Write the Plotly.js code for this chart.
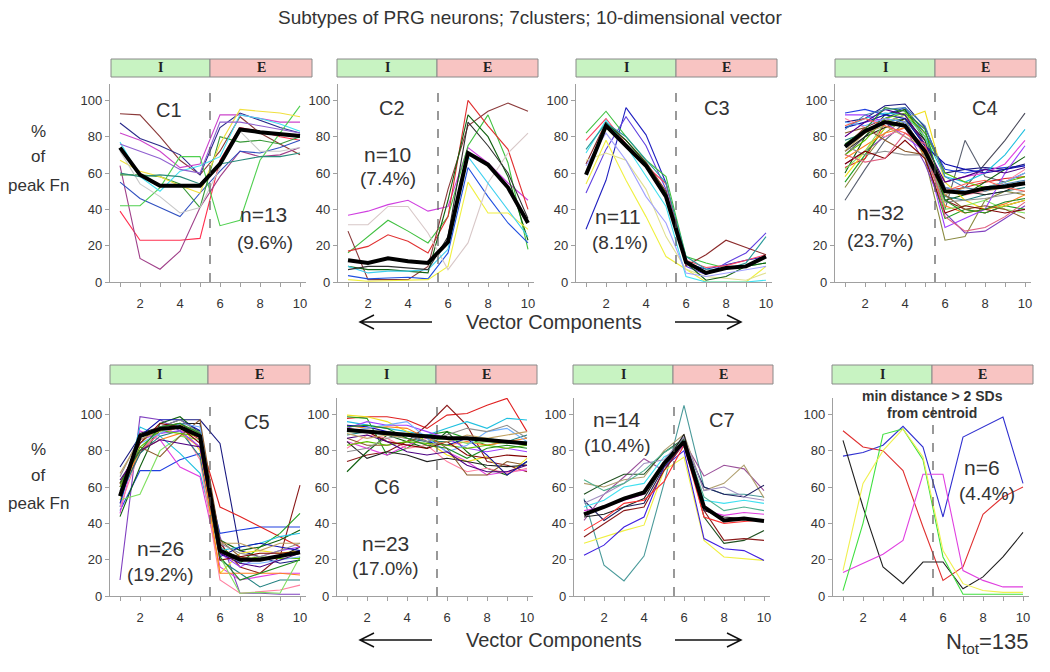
<!DOCTYPE html>
<html>
<head>
<meta charset="utf-8">
<script src="https://cdn.plot.ly/plotly-3.0.1.min.js"></script>
<style>html,body{margin:0;padding:0;background:#fff;}#chart{width:1050px;height:672px;}</style>
</head>
<body>
<div id="chart"></div>
<script>
// ---------------- DATA ----------------
const components = [1, 2, 3, 4, 5, 6, 7, 8, 9, 10];
const xTickVals = [2, 4, 6, 8, 10];
const yTickVals = [0, 20, 40, 60, 80, 100];

const chartTitle = 'Subtypes of PRG neurons; 7clusters; 10-dimensional vector';
const clusterNames = ['C1', 'C2', 'C3', 'C4', 'C5', 'C6', 'C7', ''];
const clusterCounts = ['n=13', 'n=10', 'n=11', 'n=32', 'n=26', 'n=23', 'n=14', 'n=6'];
const clusterPercents = ['(9.6%)', '(7.4%)', '(8.1%)', '(23.7%)', '(19.2%)', '(17.0%)', '(10.4%)', '(4.4%)'];
const phaseLabels = ['I', 'E'];
const axisWord = 'Vector Components';
const yLabelLines = ['%', 'of', 'peak Fn'];
const outlierNote = ['min distance &gt; 2 SDs', 'from centroid'];
const totalLabel = 'N<sub>tot</sub>=135';

const c1Lines = [
  [92.6, 92, 80, 67, 59, 72, 91, 82, 76, 70],
  [87.5, 79, 75, 70, 59, 85, 93, 89, 85, 82],
  [82, 78, 72, 63, 65, 92, 92, 90, 88, 88],
  [39, 23, 23, 23, 24, 67, 85, 83, 80, 78],
  [64, 13, 7, 17, 41, 58, 72, 69, 70, 74],
  [55, 46, 41, 36, 49, 61, 72, 71, 74, 78],
  [42, 42, 52, 69, 69, 31, 34, 67, 82, 97],
  [59, 59, 58, 54, 41, 80, 77, 78, 76, 80],
  [67, 61, 58, 53, 49, 76, 95, 94, 93, 91],
  [77, 58, 50, 61, 64, 69, 92, 90, 87, 83],
  [72, 54, 47, 38, 41, 63, 83, 72, 72, 74],
  [60, 58, 59, 58, 54, 65, 67, 69, 69, 71],
  [76, 72, 68, 62, 60, 88, 88, 86, 84, 82]
];
const c1Centroid = [74, 59, 53, 53, 53, 65, 84, 82.5, 81.6, 80.4];

const c2Lines = [
  [36.7, 39, 42.6, 45, 39, 41.6, 74, 65.5, 54.5, 45],
  [16, 25, 34, 28, 21.5, 36, 75, 92, 65.5, 18],
  [17, 19.6, 26, 22.4, 16, 36, 100, 86, 73, 40],
  [28, 1.3, 1.3, 1.3, 8.6, 51, 86, 94, 98.5, 94],
  [8.6, 6.8, 6.8, 6, 5, 45, 92, 80, 58, 23],
  [3.5, 1.7, 2.2, 2.6, 1.7, 16, 63, 47, 32.5, 21.5],
  [1.3, 0.4, 0.7, 0.9, 1.3, 8.6, 55, 38, 38, 29],
  [31.5, 31.5, 41.6, 41.6, 27, 6.8, 21.5, 54.5, 71, 82],
  [8.6, 5, 6, 6, 6.8, 18, 69, 54.5, 40, 25],
  [6.8, 8.6, 8.6, 7.7, 6.8, 25, 88, 75, 60, 35]
];
const c2Centroid = [12, 10.5, 13, 11.4, 10.5, 22, 71, 64.6, 52, 32.5];

const c3Lines = [
  [29, 56, 96, 81, 54.5, 10.5, 7, 9.5, 12, 14],
  [49, 73, 91, 75, 51, 8.6, 4, 10.5, 16, 27],
  [82, 94, 80, 67, 58, 14, 10.5, 7.7, 8.6, 10.5],
  [78, 90, 76, 64, 54, 12, 8, 9, 12, 15],
  [65, 88, 78, 66, 50, 9, 15, 23, 19, 15],
  [54, 78, 56, 36, 14, 7, 0, 0, 0, 8.6],
  [67, 71, 67, 51, 25, 7, 3, 2, 1, 5],
  [71, 89, 75, 58, 41.6, 3, 0, 0, 0, 1],
  [60, 87.5, 78, 65.5, 49, 10.5, 1, 3, 8.6, 10.5],
  [73, 87.5, 80, 67, 54.5, 14, 7, 7, 10.5, 25],
  [64, 82, 67, 47, 32.5, 5, 3, 5, 7, 8.6]
];
const c3Centroid = [59, 86, 75, 64, 47, 11, 5, 7.7, 8.6, 14];

const c4Lines = [
  [45, 62, 78, 88, 72, 40, 78, 58, 55, 60],
  [70, 80, 90, 95, 80, 50, 52, 65, 78, 93],
  [52, 68, 82, 90, 68, 23, 25, 45, 50, 48],
  [65, 72, 80, 85, 65, 38, 27, 28, 35, 42],
  [93, 95, 92, 96, 82, 62, 60, 62, 63, 64],
  [88, 90, 97, 98, 85, 60, 62, 63, 62, 65],
  [63, 68, 88, 92, 75, 50, 52, 55, 57, 58],
  [75, 85, 90, 88, 72, 45, 40, 38, 42, 45],
  [55, 70, 85, 88, 70, 35, 40, 38, 42, 40],
  [60, 80, 92, 95, 78, 45, 48, 55, 62, 69],
  [85, 90, 93, 92, 80, 58, 55, 60, 70, 84],
  [80, 88, 90, 88, 70, 55, 58, 60, 65, 78],
  [58, 72, 85, 90, 94, 55, 45, 40, 42, 45],
  [90, 85, 80, 85, 75, 52, 48, 50, 55, 62],
  [78, 82, 88, 90, 75, 47, 45, 48, 50, 52],
  [72, 80, 85, 90, 78, 52, 50, 48, 50, 55],
  [68, 75, 82, 85, 70, 42, 38, 40, 43, 48],
  [62, 72, 88, 92, 80, 40, 42, 45, 40, 38],
  [92, 92, 88, 80, 72, 30, 35, 40, 60, 75],
  [82, 85, 78, 72, 70, 48, 40, 42, 40, 35],
  [85, 88, 92, 90, 75, 65, 62, 60, 62, 64],
  [70, 78, 90, 93, 82, 60, 55, 52, 55, 58],
  [88, 86, 90, 88, 72, 52, 50, 52, 55, 60],
  [75, 70, 72, 70, 70, 44, 45, 46, 48, 50],
  [65, 72, 68, 78, 68, 38, 42, 40, 38, 40],
  [80, 88, 95, 92, 76, 55, 58, 62, 60, 63],
  [72, 82, 86, 80, 74, 48, 52, 50, 52, 54],
  [76, 84, 96, 94, 84, 45, 38, 40, 44, 46],
  [70, 66, 68, 82, 76, 36, 28, 30, 36, 44],
  [84, 92, 95, 96, 86, 58, 52, 50, 54, 56],
  [86, 90, 86, 82, 74, 50, 54, 56, 52, 50]
];
const c4Centroid = [74.5, 83, 88, 86, 72, 50, 49, 51.6, 52.6, 54.4];

const c5Lines = [
  [8.8, 98.7, 97, 91, 88, 32.7, 1.5, 1.5, 1, 1],
  [47, 69, 69, 75, 78.5, 34.5, 36.3, 38, 38, 38],
  [71, 88, 93, 97, 97, 84, 25, 21.6, 18, 19.8],
  [62, 80, 89.5, 93, 86, 49, 43.7, 38, 32.7, 27],
  [56.5, 78.5, 91, 95, 88, 29, 16, 12.5, 21.6, 61],
  [55, 86, 91, 93, 91, 25, 18, 27, 34.5, 45.5],
  [43.7, 71, 95, 98.7, 89.5, 30.8, 25, 27, 30.8, 36.3],
  [49, 93, 88, 78.5, 67.5, 25, 27, 29, 32.7, 34.5],
  [45.5, 91, 86, 71, 65.7, 16, 8.8, 10.6, 12.5, 12.5],
  [52.8, 84, 93, 95, 80, 12.5, 23.5, 25, 23.5, 25],
  [49, 80, 89.5, 93, 75, 8.8, 1.5, 2.4, 3.3, 6],
  [55, 78.5, 88, 91, 76.7, 19.8, 12.5, 5, 8.8, 8.8],
  [56.5, 89.5, 93, 95, 95, 25, 21.6, 19.8, 21.6, 27],
  [58, 80, 86, 89.5, 82, 12.5, 12.5, 12.5, 12.5, 11.6],
  [52.8, 56, 80, 88, 86, 21.6, 1.5, 2, 1.5, 21.6],
  [60, 86, 89.5, 91, 82, 23.5, 16, 21.6, 25, 27],
  [60, 82, 76.7, 88, 97, 30.8, 21.6, 19.8, 21.6, 23.5],
  [51, 88, 97, 97, 91, 21.6, 27, 29, 27, 25],
  [60, 82, 91, 89.5, 88, 27, 19.8, 21.6, 20.7, 20.7],
  [58, 84, 89.5, 95, 93, 27, 18, 18, 19.8, 21.6],
  [65.7, 88, 93, 97, 89.5, 29, 23.5, 21.6, 25, 29],
  [62, 84, 95, 93, 84, 19.8, 21.6, 23.5, 23.5, 24.4],
  [63.8, 80, 86, 84, 82, 23.5, 18, 16, 19.8, 23.5],
  [67.5, 86, 91, 93, 89.5, 29, 29, 25, 29, 29],
  [62, 80, 93, 95, 89.5, 21.6, 8.8, 12.5, 16, 19.8]
];
const c5Centroid = [55, 88, 92, 93, 88, 25, 20, 20, 22, 24];

const c6Lines = [
  [97.8, 98.7, 98.7, 96.9, 92.3, 99.6, 100.5, 105, 108.8, 90.5],
  [74, 77.6, 79.4, 85, 94, 105, 94, 74, 72, 68.4],
  [98.7, 97.8, 77.6, 81.3, 88.6, 90.5, 86.8, 83, 85, 83],
  [68.4, 79.4, 88.6, 85, 81.3, 90.5, 79.4, 70.3, 66.6, 74],
  [96, 94, 92.3, 90.5, 88.6, 92.3, 96, 92.3, 97.8, 96.9],
  [85, 81.3, 77.6, 83, 86.8, 79.4, 74, 66.6, 68.4, 69.4],
  [99.6, 98.7, 96, 90.5, 85, 77.6, 74, 76.7, 66.6, 75.8],
  [81.3, 88.6, 86.8, 81.3, 83, 74, 68.4, 70.3, 67.5, 70.3],
  [88.6, 90.5, 88.6, 86.8, 85, 85, 86.8, 86.8, 85, 88.6],
  [85, 75.8, 79.4, 77.6, 74, 75.8, 74, 72, 71.2, 72],
  [94, 92.3, 93.2, 92.3, 86.8, 83, 85, 83, 85, 86.8],
  [90.5, 90.5, 90.5, 88.6, 85, 86.8, 84, 85, 84, 85],
  [92.3, 96, 94, 94, 90.5, 86.8, 81.3, 79.4, 81.3, 79.4],
  [86.8, 83, 83, 85, 88.6, 81.3, 66.6, 66.6, 74, 72],
  [94, 93.2, 90.5, 88.6, 85, 83, 86.8, 77.6, 66.6, 74],
  [83, 85, 83, 85, 84, 83, 81.3, 83, 81.3, 83],
  [90.5, 92.3, 94, 96, 86.8, 79.4, 83, 90.5, 92.3, 85],
  [79.4, 81.3, 86.8, 88.6, 85, 88.6, 92.3, 90.5, 94, 86.8],
  [92.3, 90.5, 85, 83, 81.3, 85, 77.6, 75.8, 77.6, 76.7],
  [86.8, 88.6, 85, 79.4, 77.6, 79.4, 72, 68.4, 68.4, 72],
  [89.5, 86.8, 88.6, 86.8, 83, 85, 88.6, 86.8, 88.6, 90.5],
  [93.2, 94, 92.3, 86.8, 83, 81.3, 75.8, 81.3, 83, 81.3]
];
const c6Centroid = [91.4, 90.5, 89.5, 88.6, 87.7, 87, 86.8, 85.9, 85, 84];

const c7Lines = [
  [53.6, 17, 8.3, 22, 62, 105, 60, 56, 56, 54.5],
  [41.6, 56, 65.5, 75.6, 69, 85, 66, 72, 70, 58],
  [62, 60, 64, 65.5, 80, 89, 58, 62, 72, 54],
  [29, 32.5, 36, 39, 69, 76.5, 30.6, 21.5, 20.5, 19.6],
  [22.4, 28, 38, 43.5, 71, 80, 31.6, 26, 25, 19.6],
  [56, 62, 67, 67, 79, 86.6, 43.5, 29, 30.6, 36],
  [32.5, 40, 47, 49, 69, 84, 47, 30.6, 31.6, 30.6],
  [52.7, 41.6, 49, 51, 71, 84, 60, 56, 54.5, 61],
  [49, 52.7, 60, 62, 76.5, 82, 52.7, 51, 52.7, 51],
  [47, 49, 52.7, 56, 73, 83, 47, 44.4, 46, 45],
  [51, 56, 62, 73, 75, 87.5, 58, 60, 54.5, 52.7],
  [64, 58, 62, 69, 79, 85.7, 54.5, 47, 49, 47],
  [43.5, 45, 49, 53.6, 72, 89, 47, 43.5, 42.6, 41.6],
  [36, 42.6, 51, 52.7, 63, 83, 43.5, 40, 41, 42]
];
const c7Centroid = [45, 49, 53.6, 57, 73, 85, 49, 41.6, 42.6, 41.3];

const c8Lines = [
  [77, 79, 83, 93.4, 82, 43.5, 87.5, 93, 98.5, 62],
  [91, 82, 80, 69, 38, 8.6, 16, 45, 54.5, 60],
  [85.7, 49, 16, 6.8, 18.7, 18.7, 4, 10.5, 21.5, 35],
  [13, 18, 23, 30.6, 67, 67, 14, 8.6, 5, 5],
  [3, 40, 89, 92, 75, 21.5, 1, 1, 1, 1],
  [14, 62, 80, 92, 76.5, 25, 6.8, 3, 2, 2]
];

// ---------------- STYLES ----------------
const c1Colors = ['#8b3a3a', '#2a2a8a', '#cc44cc', '#ff3050', '#a0408a', '#3050c0', '#50d050', '#3a9a3a', '#f0e040', '#40e0f0', '#c8c8c8', '#2a8a7a', '#9060d0'];
const c2Colors = ['#d040e0', '#40c040', '#e03030', '#8b3a3a', '#106010', '#2050e0', '#f0f040', '#d8c8c8', '#40d0f0', '#303030'];
const c3Colors = ['#2020c0', '#6040e0', '#40c040', '#ff4060', '#8b2a2a', '#f0f040', '#e0e090', '#40e0f0', '#106010', '#2a9a9a', '#a0a0ff'];
const c7Colors = ['#4a9a9a', '#9a509a', '#b0a070', '#f0f040', '#4020e0', '#205020', '#8b1a1a', '#202060', '#40e0f0', '#e040e0', '#a090c0', '#50b090', '#202020', '#ff3030'];
const c8Colors = ['#3030d0', '#e03030', '#202020', '#e040e0', '#40e040', '#f0f050'];
const densePalette = ['#5a6070', '#4a4a5a', '#8a8a40', '#8040c0', '#2040e0', '#1a1a80', '#e02020', '#8b1a1a', '#20a020', '#106010', '#20c0e0', '#e040e0', '#f0e020', '#ff80a0', '#208080', '#202020', '#ff8020', '#80e060', '#a040ff', '#8b5a2b', '#1010b0', '#60c000', '#70b0ff', '#909090', '#800000', '#4b0082', '#c0a060', '#228b22', '#e06080', '#4682b4', '#ff6050'];

const W = 1050, H = 672;
const PX = p => p / W;
const PY = p => 1 - p / H;

// panel pixel geometry (x range 0.5..10.3, y range 0..109)
const panelXpx = [[110, 306], [338, 534], [576, 772], [835, 1031], [110, 306], [337, 533], [574, 770], [833, 1029]];
const rowYpx = [[84, 282], [398, 596]];
const headerXpx = [[111, 210, 312], [337, 437, 538], [576, 676, 777], [835, 935, 1036], [110, 208, 310], [337, 436, 537], [573, 673, 773], [832, 932, 1033]];
const headerYpx = [[59, 77], [365, 384]];

const panels = [
  {lines: c1Lines, colors: c1Colors, centroid: c1Centroid},
  {lines: c2Lines, colors: c2Colors, centroid: c2Centroid},
  {lines: c3Lines, colors: c3Colors, centroid: c3Centroid},
  {lines: c4Lines, colors: densePalette, centroid: c4Centroid},
  {lines: c5Lines, colors: densePalette.slice(3).concat(densePalette.slice(0, 3)), centroid: c5Centroid},
  {lines: c6Lines, colors: densePalette.slice(6).concat(densePalette.slice(0, 6)), centroid: c6Centroid},
  {lines: c7Lines, colors: c7Colors, centroid: c7Centroid},
  {lines: c8Lines, colors: c8Colors, centroid: null}
];

// text positions (data coords of each panel)
const namePos = [[3.45, 94.5], [3.2, 95.6], [7.55, 96], [8, 96], [7.85, 96], [3, 60], [7.9, 97], null];
const countPos = [[8.15, 37], [2.95, 70], [2.6, 36], [2.75, 38], [3, 26.4], [2.9, 29], [2.65, 97], [7.95, 71]];
const pctPos = [[8.25, 22], [3, 57], [2.7, 21.5], [2.75, 23], [3, 11.6], [2.9, 15.4], [2.65, 83], [8.2, 56.7]];

const traces = [];
const layout = {
  width: W, height: H,
  margin: {l: 0, r: 0, t: 0, b: 0},
  paper_bgcolor: '#ffffff', plot_bgcolor: '#ffffff',
  showlegend: false,
  font: {family: 'Liberation Sans, Arial, sans-serif', color: '#333'},
  shapes: [], annotations: []
};
const textColor = '#333';
function note(opts) {
  layout.annotations.push(Object.assign({showarrow: false, xanchor: 'center', yanchor: 'middle'}, opts));
}

panels.forEach((p, i) => {
  const n = i + 1;
  const xa = n === 1 ? 'x' : 'x' + n;
  const ya = n === 1 ? 'y' : 'y' + n;
  const row = i < 4 ? 0 : 1;
  p.lines.forEach((ys, k) => {
    traces.push({x: components, y: ys, xaxis: xa, yaxis: ya, type: 'scatter', mode: 'lines',
      line: {color: p.colors[k % p.colors.length], width: 1.1}, hoverinfo: 'skip'});
  });
  if (p.centroid) {
    traces.push({x: components, y: p.centroid, xaxis: xa, yaxis: ya, type: 'scatter', mode: 'lines',
      line: {color: '#000', width: 4}, hoverinfo: 'skip'});
  }
  const xKey = n === 1 ? 'xaxis' : 'xaxis' + n;
  const yKey = n === 1 ? 'yaxis' : 'yaxis' + n;
  layout[xKey] = {
    domain: [PX(panelXpx[i][0]), PX(panelXpx[i][1])], anchor: ya, range: [0.5, 10.3],
    tickmode: 'array', tickvals: xTickVals,
    minor: {tickmode: 'linear', tick0: 1, dtick: 1, ticks: 'outside', ticklen: 4, tickcolor: '#a0a0a0', showgrid: false},
    showline: true, linecolor: '#a0a0a0', linewidth: 1.2, ticks: 'outside', ticklen: 4, tickcolor: '#a0a0a0',
    showgrid: false, zeroline: false, tickfont: {size: 13, color: '#333'}, ticklabelstandoff: 5, fixedrange: true
  };
  layout[yKey] = {
    domain: [PY(rowYpx[row][1]), PY(rowYpx[row][0])], anchor: xa, range: [0, 109],
    tickmode: 'array', tickvals: yTickVals,
    showline: true, linecolor: '#a0a0a0', linewidth: 1.2, ticks: 'outside', ticklen: 4, tickcolor: '#a0a0a0',
    showgrid: false, zeroline: false, tickfont: {size: 13, color: '#333'}, fixedrange: true
  };
  // dashed I/E boundary
  layout.shapes.push({type: 'line', xref: xa, yref: ya + ' domain', x0: 5.5, x1: 5.5, y0: 0, y1: 1,
    line: {color: '#555', width: 1.2, dash: 'dash'}});
  // header bar
  const hx = headerXpx[i], hy = headerYpx[row];
  layout.shapes.push({type: 'rect', xref: 'paper', yref: 'paper', x0: PX(hx[0]), x1: PX(hx[1]), y0: PY(hy[1]), y1: PY(hy[0]),
    fillcolor: '#c8f3c2', line: {color: '#8a8a8a', width: 1}});
  layout.shapes.push({type: 'rect', xref: 'paper', yref: 'paper', x0: PX(hx[1]), x1: PX(hx[2]), y0: PY(hy[1]), y1: PY(hy[0]),
    fillcolor: '#f8c4c2', line: {color: '#8a8a8a', width: 1}});
  const serif = {family: 'Liberation Serif, Times New Roman, serif', size: 14, color: '#222'};
  note({xref: 'paper', yref: 'paper', x: PX((hx[0] + hx[1]) / 2), y: PY((hy[0] + hy[1]) / 2), text: '<b>' + phaseLabels[0] + '</b>', font: serif});
  note({xref: 'paper', yref: 'paper', x: PX((hx[1] + hx[2]) / 2), y: PY((hy[0] + hy[1]) / 2), text: '<b>' + phaseLabels[1] + '</b>', font: serif});
  // cluster texts
  if (namePos[i] && clusterNames[i]) {
    note({xref: xa, yref: ya, x: namePos[i][0], y: namePos[i][1], text: clusterNames[i], font: {size: 20, color: textColor}});
  }
  note({xref: xa, yref: ya, x: countPos[i][0], y: countPos[i][1], text: clusterCounts[i], font: {size: 21, color: textColor}});
  note({xref: xa, yref: ya, x: pctPos[i][0], y: pctPos[i][1], text: clusterPercents[i], font: {size: 19, color: textColor}});
});

// outlier note in panel 8 (paper coords so it can sit above the plot top)
note({xref: 'paper', yref: 'paper', x: PX(932), y: PY(396), text: '<b>' + outlierNote[0] + '</b>', font: {size: 14, color: '#333'}});
note({xref: 'paper', yref: 'paper', x: PX(932), y: PY(413), text: '<b>' + outlierNote[1] + '</b>', font: {size: 14, color: '#333'}});

// title
note({xref: 'paper', yref: 'paper', x: PX(530), y: PY(17), text: chartTitle, font: {size: 19, color: '#333'}});
// y labels
const yLabelPy = [[132, 157, 185], [450, 475, 503]];
yLabelPy.forEach(rowPos => rowPos.forEach((py, k) => {
  note({xref: 'paper', yref: 'paper', x: PX(38), y: PY(py), text: yLabelLines[k], font: {size: 17, color: '#333'}});
}));
// vector components + arrows
[322, 640].forEach(py => {
  note({xref: 'paper', yref: 'paper', x: PX(554), y: PY(py), text: axisWord, font: {size: 20, color: '#333'}});
  const left = `M ${PX(432)},${PY(py)} L ${PX(360)},${PY(py)} M ${PX(374)},${PY(py - 7)} L ${PX(360)},${PY(py)} L ${PX(374)},${PY(py + 7)}`;
  const right = `M ${PX(675)},${PY(py)} L ${PX(741)},${PY(py)} M ${PX(727)},${PY(py - 7)} L ${PX(741)},${PY(py)} L ${PX(727)},${PY(py + 7)}`;
  layout.shapes.push({type: 'path', xref: 'paper', yref: 'paper', path: left, line: {color: '#111', width: 1.5}});
  layout.shapes.push({type: 'path', xref: 'paper', yref: 'paper', path: right, line: {color: '#111', width: 1.5}});
});
// total
note({xref: 'paper', yref: 'paper', x: PX(987), y: PY(643), text: totalLabel, font: {size: 22, color: '#333'}});

Plotly.newPlot('chart', traces, layout, {staticPlot: true, displayModeBar: false});
</script>
</body>
</html>
